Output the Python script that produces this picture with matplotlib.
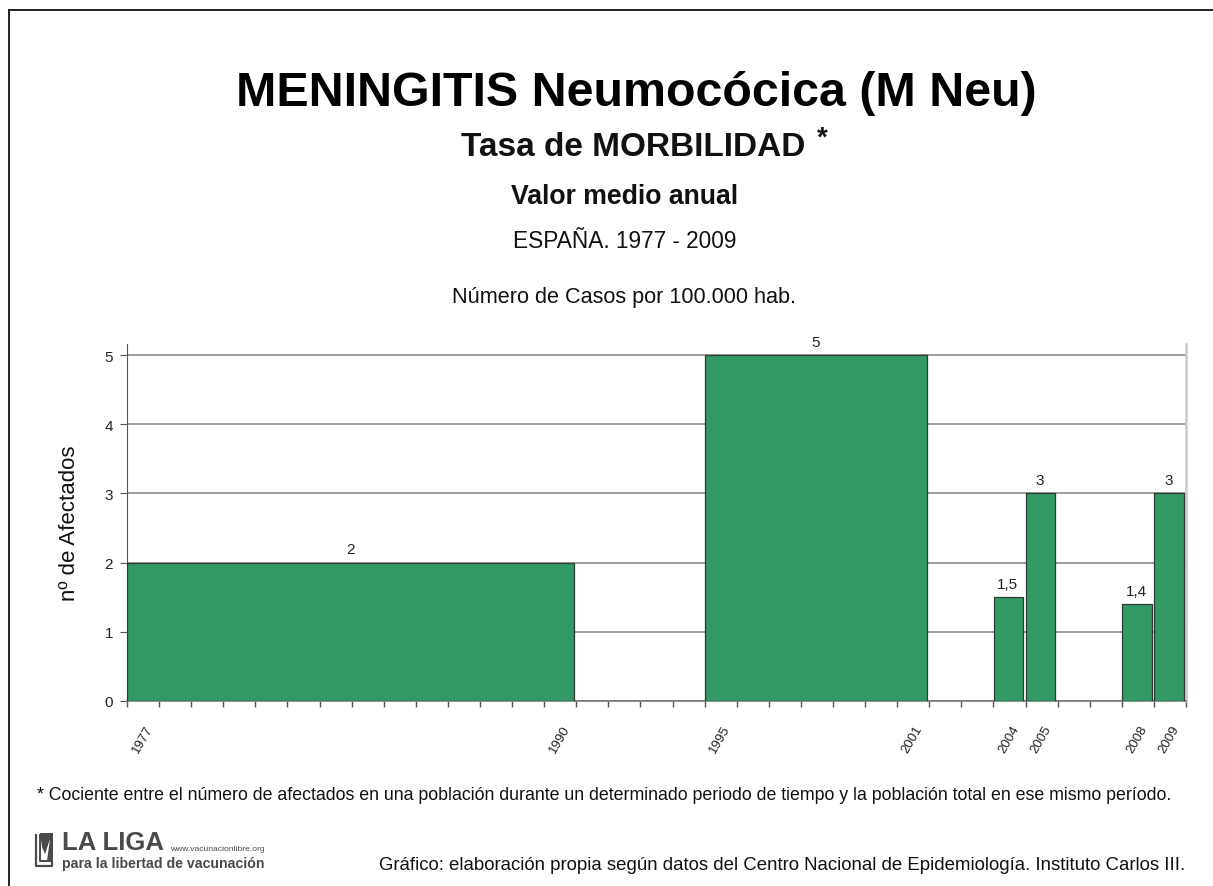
import matplotlib
matplotlib.use('Agg')
from matplotlib import pyplot as plt
from matplotlib.patches import Polygon
from matplotlib.ticker import MultipleLocator

#values
start_years = [1977, 1995, 2004, 2005, 2008, 2009]
end_years = [1990, 2001, 2004, 2005, 2008, 2009]
values = [2, 5, 1.5, 3, 1.4, 3]
value_labels = ['2', '5', '1,5', '3', '1,4', '3']
tick_years = [1977, 1990, 1995, 2001, 2004, 2005, 2008, 2009]
y_ticks = [0, 1, 2, 3, 4, 5]

plt.rcParams['font.family'] = ['Liberation Sans', 'DejaVu Sans']

W, H = 1213, 887
fig = plt.figure(figsize=(W / 100, H / 100), dpi=100, facecolor='white')

def fx(x):
    return x / W

def fy(y):
    return 1 - y / H

def pline(xs, ys, color, lw):
    fig.add_artist(plt.Line2D([fx(x) for x in xs], [fy(y) for y in ys], color=color, linewidth=lw,
                              solid_capstyle='butt'))

#outer frame, only top and left are there
pline([9, 1213], [10.5, 10.5], '#111111', 1.3)
pline([9, 9], [10, 887], '#111111', 1.3)

#chart area
left, right, top, bottom = 127, 1186, 345, 702
ax = fig.add_axes([fx(left), fy(bottom), (right - left) / W, (bottom - top) / H])

widths = [e - s + 1 for s, e in zip(start_years, end_years)]
#small gap on the right of each bar
ax.bar([s + 0.01 for s in start_years], values, width=[w - 0.08 for w in widths], align='edge',
       color='#339966', edgecolor='#2b3a33', linewidth=0.9, zorder=3)

for s, w, v, lab in zip(start_years, widths, values, value_labels):
    ax.annotate(lab, (s + w / 2 - 0.05, v), xytext=(0, 4.5), textcoords='offset points',
                ha='center', va='bottom', fontsize=11, color='#222222')

ax.set_xlim(1977, 2010)
ax.set_ylim(0, 5 * (bottom - top) / (bottom - 356))
ax.set_yticks(y_ticks)
ax.tick_params(axis='y', labelsize=11, length=5, color='#555555', labelcolor='#222222', pad=5)
ax.yaxis.grid(True, color='#8c8c8c', linewidth=1.2, zorder=1)
ax.set_axisbelow(True)

#ticks sit between the years, labels in the middle of each year
ax.xaxis.set_major_locator(MultipleLocator(1))
ax.set_xticklabels([])
ax.tick_params(axis='x', which='major', length=4, color='#555555', width=1)
for y in tick_years:
    ax.annotate(str(y), (y + 0.48, 0), xytext=(0, -16), textcoords='offset points',
                rotation=60, ha='center', va='top', fontsize=9.5, color='#222222',
                annotation_clip=False)

ax.spines['top'].set_visible(False)
ax.spines['left'].set_color('#555555')
ax.spines['bottom'].set_color('#777777')
ax.spines['bottom'].set_linewidth(1.2)
ax.spines['right'].set_color('#c8c8c8')
ax.spines['right'].set_linewidth(1.8)

ax.set_ylabel('nº de Afectados', fontsize=16, color='#111111')
ax.yaxis.set_label_coords((80 - left) / (right - left), 0.5)

#titles
def label(x, y, s, size, weight='normal', ha='center', color='#111111'):
    fig.text(fx(x), fy(y), s, fontsize=size, fontweight=weight, ha=ha, va='center', color=color)

label(636, 93, 'MENINGITIS Neumocócica (M Neu)', 34.8, 'bold', color='#000000')
label(633, 148, 'Tasa de MORBILIDAD', 24, 'bold')
label(822, 139, '*', 20, 'bold')
label(625, 197, 'Valor medio anual', 19.2, 'bold')
label(625, 241, 'ESPAÑA. 1977 - 2009', 16.3)
label(624, 298, 'Número de Casos por 100.000 hab.', 15.6)

label(604, 796, '* Cociente entre el número de afectados en una población durante un determinado periodo de tiempo y la población total en ese mismo período.',
      12.8)
label(782, 866, 'Gráfico: elaboración propia según datos del Centro Nacional de Epidemiología. Instituto Carlos III.',
      13.4)

#logo
label(62, 843, 'LA LIGA', 18.5, 'bold', ha='left', color='#4a4a4a')
label(170, 850, 'www.vacunacionlibre.org', 6.1, ha='left', color='#4a4a4a')
label(62, 864, 'para la libertad de vacunación', 10.2, 'bold', ha='left', color='#4a4a4a')
pline([36, 36, 52, 52], [835, 867, 867, 862], '#4a4a4a', 1.6)
pline([40, 40, 52], [835, 862, 862], '#4a4a4a', 1.4)
fig.add_artist(Polygon([(fx(40), fy(834)), (fx(53), fy(834)), (fx(53), fy(862)), (fx(47), fy(862)),
                        (fx(50), fy(840)), (fx(45), fy(855)), (fx(42), fy(848))],
                       transform=fig.transFigure, facecolor='#4a4a4a', edgecolor='none'))

fig.savefig('out.png', dpi=100)
